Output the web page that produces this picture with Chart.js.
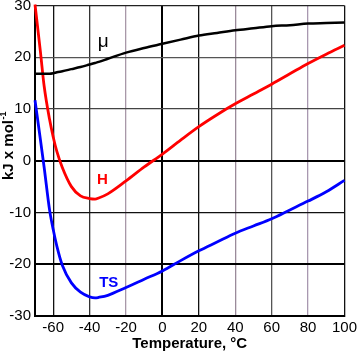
<!DOCTYPE html>
<html>
<head>
<meta charset="utf-8">
<script src="https://cdn.jsdelivr.net/npm/chart.js@4"></script>
<style>
  html, body { margin: 0; padding: 0; background: #fff; }
  #wrap { width: 360px; height: 353px; position: relative; }
</style>
</head>
<body>
<div id="wrap"><canvas id="chart"></canvas></div>
<script>
// temperatures (°C) the curves are read at
var temps = [-70, -67, -65, -62, -60, -58, -55, -50, -45, -40, -37, -35, -30, -20, -10, 0, 10, 20, 30, 40, 50, 60, 70, 80, 90, 100];
var muVals = [16.8, 16.8, 16.8, 16.8, 16.9, 17.1, 17.3, 17.7, 18.1, 18.6, 18.9, 19.1, 19.7, 20.9, 21.8, 22.6, 23.4, 24.2, 24.7, 25.2, 25.6, 26.0, 26.2, 26.5, 26.6, 26.7];
var hVals = [30.2, 21.0, 14.5, 8.0, 4.6, 1.8, -1.3, -5.0, -6.8, -7.3, -7.4, -7.2, -6.4, -3.9, -1.2, 1.3, 4.0, 6.6, 8.9, 11.0, 12.9, 14.8, 16.8, 18.8, 20.6, 22.3];
var tsVals = [11.7, 4.0, -1.2, -9.5, -13.3, -16.5, -20.2, -23.6, -25.4, -26.3, -26.5, -26.4, -26.0, -24.5, -22.9, -21.3, -19.3, -17.4, -15.7, -14.0, -12.6, -11.2, -9.5, -7.8, -6.0, -3.8];

var xTicks = [-70, -60, -40, -20, 0, 20, 40, 60, 80, 100];
var yTicks = [-30, -20, -10, 0, 10, 20, 30];

// curve labels, in data coordinates
var curveLabels = [
  { text: "\u03bc", x: -32.5, y: 22.9, color: "#000", font: "normal 19px 'Liberation Sans', Arial" },
  { text: "H", x: -33, y: -3.6, color: "#f00", font: "bold 15px 'Liberation Sans', Arial" },
  { text: "TS", x: -29.5, y: -23.6, color: "#00f", font: "bold 15px 'Liberation Sans', Arial" }
];

function pts(vals) {
  return temps.map(function(t, i) { return { x: t, y: vals[i] }; });
}

var xGridColor = { "-70": "#000", "-60": "#111", "-40": "#333", "-20": "#a898a8", "0": "#000", "20": "#111", "40": "#9a8a9a", "60": "#555", "80": "#a898b0", "100": "#111" };
var yGridColor = { "-30": "#000", "-20": "#000", "-10": "#111", "0": "#000", "10": "#444", "20": "#555", "30": "#222" };

var labelPlugin = {
  id: "curveLabels",
  afterDatasetsDraw: function(chart) {
    var ctx = chart.ctx;
    var xs = chart.scales.x, ys = chart.scales.y;
    ctx.save();
    ctx.textAlign = "center";
    ctx.textBaseline = "middle";
    curveLabels.forEach(function(l) {
      ctx.font = l.font;
      ctx.fillStyle = l.color;
      ctx.fillText(l.text, xs.getPixelForValue(l.x), ys.getPixelForValue(l.y));
    });
    // y axis title with superscript
    ctx.translate(9, 146);
    ctx.rotate(-Math.PI / 2);
    ctx.fillStyle = "#000";
    var main = "kJ x mol";
    ctx.font = "bold 15px 'Liberation Sans', Arial";
    var w1 = ctx.measureText(main).width;
    ctx.font = "bold 9px 'Liberation Sans', Arial";
    var w2 = ctx.measureText("-1").width;
    var x0 = -(w1 + w2) / 2;
    ctx.textAlign = "left";
    ctx.font = "bold 15px 'Liberation Sans', Arial";
    ctx.fillText(main, x0, 0);
    ctx.font = "bold 9px 'Liberation Sans', Arial";
    ctx.fillText("-1", x0 + w1 + 0.5, -5);
    ctx.restore();
  }
};

var ctx = document.getElementById("chart").getContext("2d");
var chart = new Chart(ctx, {
  type: "scatter",
  data: {
    datasets: [
      { label: "mu", data: pts(muVals), borderColor: "#000", borderWidth: 2.5 },
      { label: "H", data: pts(hVals), borderColor: "#f00", borderWidth: 2.8 },
      { label: "TS", data: pts(tsVals), borderColor: "#00f", borderWidth: 2.8 }
    ].map(function(d) {
      d.showLine = true;
      d.pointRadius = 0;
      d.cubicInterpolationMode = "monotone";
      d.clip = 2;
      return d;
    })
  },
  options: {
    responsive: true,
    maintainAspectRatio: false,
    animation: false,
    layout: { padding: { top: 4, right: 13, left: 0, bottom: 0 } },
    plugins: { legend: { display: false }, tooltip: { enabled: false } },
    scales: {
      x: {
        type: "linear",
        min: -70,
        max: 100,
        afterBuildTicks: function(s) { s.ticks = xTicks.map(function(v) { return { value: v }; }); },
        afterFit: function(s) { s.height = 37; },
        border: { display: true, color: "#000", width: 2 },
        grid: {
          drawTicks: false,
          color: function(c) { return xGridColor[c.tick.value] || "#000"; },
          lineWidth: function(c) { return c.tick.value === 0 ? 2 : 1.3; }
        },
        ticks: {
          color: "#000",
          padding: 3,
          maxRotation: 0,
          font: { family: "'Liberation Sans', Arial", size: 15 },
          callback: function(v) { return v === -70 ? "" : v; }
        },
        title: {
          display: true,
          text: "Temperature, \u00b0C",
          color: "#000",
          padding: { top: 0, bottom: 0 },
          font: { family: "'Liberation Sans', Arial", size: 15, weight: "bold" }
        }
      },
      y: {
        min: -30,
        max: 30,
        afterBuildTicks: function(s) { s.ticks = yTicks.map(function(v) { return { value: v }; }); },
        afterFit: function(s) { s.width = 35; },
        border: { display: true, color: "#000", width: 2 },
        grid: {
          drawTicks: false,
          color: function(c) { return yGridColor[c.tick.value] || "#000"; },
          lineWidth: function(c) { return (c.tick.value === 0 || c.tick.value === -20) ? 2 : 1.3; }
        },
        ticks: {
          color: "#000",
          padding: 4,
          font: { family: "'Liberation Sans', Arial", size: 15, lineHeight: 0.2 }
        },
        title: { display: false }
      }
    }
  },
  plugins: [labelPlugin]
});
</script>
</body>
</html>
